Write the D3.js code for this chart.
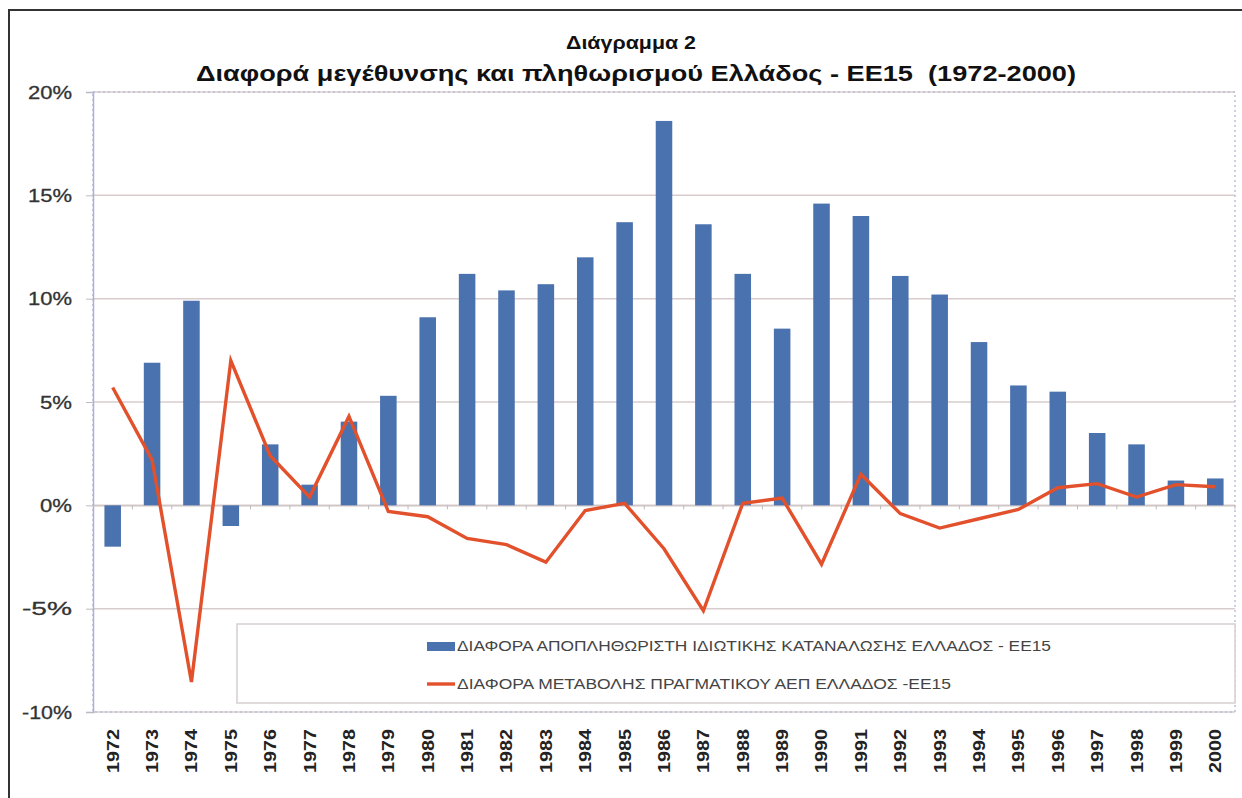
<!DOCTYPE html>
<html>
<head>
<meta charset="utf-8">
<script src="https://cdn.jsdelivr.net/npm/d3@7"></script>
<style>
  html, body { margin: 0; padding: 0; background: #fff; }
  svg { display: block; }
</style>
</head>
<body>
<svg id="chart" width="1242" height="798"></svg>
<script>
const years = ["1972","1973","1974","1975","1976","1977","1978","1979","1980","1981","1982","1983","1984","1985","1986","1987","1988","1989","1990","1991","1992","1993","1994","1995","1996","1997","1998","1999","2000"];
const consumptionDiff = [-2.0, 6.9, 9.9, -1.0, 2.95, 1.0, 4.05, 5.3, 9.1, 11.2, 10.4, 10.7, 12.0, 13.7, 18.6, 13.6, 11.2, 8.55, 14.6, 14.0, 11.1, 10.2, 7.9, 5.8, 5.5, 3.5, 2.95, 1.2, 1.3];
const gdpDiff = [5.7, 2.2, -8.55, 7.0, 2.4, 0.4, 4.3, -0.3, -0.55, -1.6, -1.9, -2.75, -0.25, 0.1, -2.1, -5.1, 0.1, 0.35, -2.85, 1.5, -0.4, -1.1, -0.65, -0.2, 0.85, 1.05, 0.4, 1.0, 0.9];
const yTicks = [-10, -5, 0, 5, 10, 15, 20];
const title1 = "Διάγραμμα 2";
const title2 = "Διαφορά μεγέθυνσης και πληθωρισμού Ελλάδος - ΕΕ15  (1972-2000)";
const legendLabels = ["ΔΙΑΦΟΡΑ ΑΠΟΠΛΗΘΩΡΙΣΤΗ ΙΔΙΩΤΙΚΗΣ ΚΑΤΑΝΑΛΩΣΗΣ ΕΛΛΑΔΟΣ - ΕΕ15", "ΔΙΑΦΟΡΑ ΜΕΤΑΒΟΛΗΣ ΠΡΑΓΜΑΤΙΚΟΥ ΑΕΠ ΕΛΛΑΔΟΣ -ΕΕ15"];

(function () {
const svg = d3.select("#chart");
const pLeft = 93, pRight = 1235, pTop = 92, pBottom = 712;
const barColor = "#4A72AE", lineColor = "#E2512B";
const font = "'Liberation Sans', Arial, sans-serif";

// outer border
svg.append("rect").attr("x", 9).attr("y", 10).attr("width", 1400).attr("height", 900)
  .attr("fill", "none").attr("stroke", "#333").attr("stroke-width", 2);

const x = d3.scaleBand().domain(years).range([pLeft, pRight]).padding(0);
const y = d3.scaleLinear().domain([-10, 20]).range([pBottom, pTop]);

// gridlines
svg.append("g").selectAll("line").data(yTicks).join("line")
  .attr("x1", pLeft).attr("x2", pRight)
  .attr("y1", d => y(d)).attr("y2", d => y(d))
  .attr("stroke", "#d8cccc").attr("stroke-width", 1.5);

// plot frame (dotted bluish)
svg.append("rect").attr("x", pLeft).attr("y", pTop).attr("width", pRight - pLeft).attr("height", pBottom - pTop)
  .attr("fill", "none").attr("stroke", "#aab0d6").attr("stroke-width", 1.2).attr("stroke-dasharray", "2,3");

// y axis
const yAxis = d3.axisLeft(y).tickValues(yTicks).tickFormat(d => d + "%").tickSize(7).tickPadding(14);
const gy = svg.append("g").attr("transform", `translate(${pLeft},0)`).call(yAxis);
gy.select(".domain").attr("stroke", "#aab0d6").attr("stroke-width", 1.5);
gy.selectAll(".tick line").attr("stroke", "#bbb");
gy.selectAll("text").attr("font-family", font).attr("font-size", 19).attr("fill", "#333")
  .attr("stroke", "#333").attr("stroke-width", 0.3)
  .attr("textLength", d => (d < 0 ? 50 : (String(d).length === 1 ? 32 : 44)))
  .attr("lengthAdjust", "spacingAndGlyphs");

// x axis at 0 with small ticks
const gx0 = svg.append("g").attr("transform", `translate(0,${y(0)})`)
  .call(d3.axisBottom(x).tickSize(0).tickFormat(""));
gx0.select(".domain").attr("stroke", "#cfc4c4").attr("stroke-width", 1.2);
gx0.selectAll(".tick").append("line")
  .attr("x1", x.bandwidth() / 2).attr("x2", x.bandwidth() / 2)
  .attr("y1", 0).attr("y2", 4).attr("stroke", "#bbb");

// bars
const bw = x.bandwidth() * 0.42;
svg.append("g").selectAll("rect").data(years).join("rect")
  .attr("x", (d) => x(d) + (x.bandwidth() - bw) / 2)
  .attr("width", bw)
  .attr("y", (d, i) => y(Math.max(0, consumptionDiff[i])))
  .attr("height", (d, i) => Math.abs(y(consumptionDiff[i]) - y(0)))
  .attr("fill", barColor);

// line
const line = d3.line().x((d, i) => x(years[i]) + x.bandwidth() / 2).y(d => y(d));
svg.append("path").datum(gdpDiff).attr("d", line)
  .attr("fill", "none").attr("stroke", lineColor).attr("stroke-width", 3.4)
  .attr("stroke-linejoin", "miter");

// x labels at bottom (rotated)
const gx = svg.append("g").attr("transform", `translate(0,${pBottom})`)
  .call(d3.axisBottom(x).tickSize(0).tickPadding(0));
gx.select(".domain").remove();
gx.selectAll("text")
  .attr("font-family", font).attr("font-size", 17).attr("font-weight", "bold").attr("fill", "#222")
  .attr("text-anchor", "end")
  .attr("dy", "0.35em")
  .attr("transform", "translate(0,17) rotate(-90)")
  .attr("x", 0).attr("y", 0)
  .attr("textLength", 44).attr("lengthAdjust", "spacingAndGlyphs");

// legend
const lg = svg.append("g");
lg.append("rect").attr("x", 237).attr("y", 624).attr("width", pRight - 237).attr("height", 79)
  .attr("fill", "#fff").attr("stroke", "#d6d0d0").attr("stroke-width", 1.5);
lg.append("rect").attr("x", 427).attr("y", 642).attr("width", 28).attr("height", 9).attr("fill", barColor);
lg.append("line").attr("x1", 427).attr("x2", 455).attr("y1", 684).attr("y2", 684)
  .attr("stroke", lineColor).attr("stroke-width", 3.4);
const legendWidths = [594, 494];
lg.selectAll("text.lg").data(legendLabels).join("text").attr("class", "lg")
  .attr("x", 457).attr("y", (d, i) => 651 + i * 38)
  .attr("font-family", font).attr("font-size", 14).attr("fill", "#444")
  .attr("textLength", (d, i) => legendWidths[i]).attr("lengthAdjust", "spacingAndGlyphs")
  .text(d => d);

// titles
svg.append("text").attr("x", 631).attr("y", 49).attr("text-anchor", "middle")
  .attr("font-family", font).attr("font-size", 19).attr("font-weight", "bold").attr("fill", "#111")
  .attr("textLength", 130).attr("lengthAdjust", "spacingAndGlyphs")
  .text(title1);
svg.append("text").attr("x", 636).attr("y", 81).attr("text-anchor", "middle")
  .attr("font-family", font).attr("font-size", 22).attr("font-weight", "bold").attr("fill", "#111")
  .style("white-space", "pre")
  .attr("textLength", 880).attr("lengthAdjust", "spacingAndGlyphs")
  .text(title2);
})();
</script>
</body>
</html>
